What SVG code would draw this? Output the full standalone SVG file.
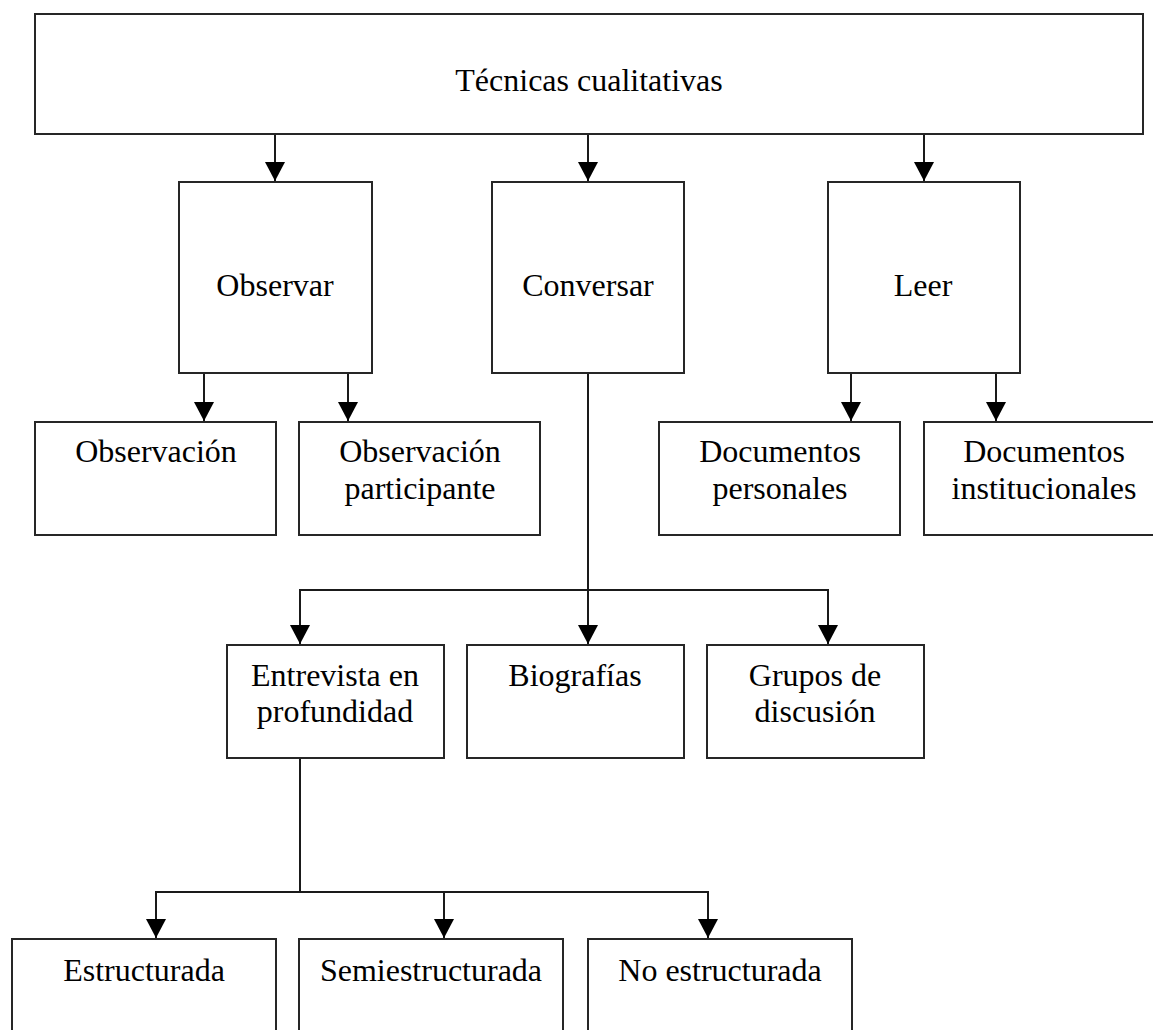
<svg xmlns="http://www.w3.org/2000/svg" width="1153" height="1030" viewBox="0 0 1153 1030">
<style>
.box{fill:#fff;stroke:#262626;stroke-width:2}
.lbl{font-family:"Liberation Serif","Times New Roman",serif;font-size:32px;fill:#000;text-anchor:middle}
.con{fill:none;stroke:#1a1a1a;stroke-width:2}
</style>
<defs>
<marker id="ah" markerUnits="userSpaceOnUse" markerWidth="22" markerHeight="22" refX="19" refY="10" orient="auto">
<path d="M0,0 L19,10 L0,20 Z" fill="#000"/>
</marker>
</defs>
<rect width="1153" height="1030" fill="#fff"/>
<g id="connectors">
<line class="con" x1="275" y1="134" x2="275" y2="181" marker-end="url(#ah)"/>
<line class="con" x1="588" y1="134" x2="588" y2="181" marker-end="url(#ah)"/>
<line class="con" x1="924" y1="134" x2="924" y2="181" marker-end="url(#ah)"/>
<line class="con" x1="204" y1="373" x2="204" y2="421" marker-end="url(#ah)"/>
<line class="con" x1="348" y1="373" x2="348" y2="421" marker-end="url(#ah)"/>
<line class="con" x1="851" y1="373" x2="851" y2="421" marker-end="url(#ah)"/>
<line class="con" x1="996" y1="373" x2="996" y2="421" marker-end="url(#ah)"/>
<line class="con" x1="588" y1="373" x2="588" y2="644" marker-end="url(#ah)"/>
<polyline class="con" points="300,620 300,590 828,590 828,620"/>
<line class="con" x1="300" y1="610" x2="300" y2="644" marker-end="url(#ah)"/>
<line class="con" x1="828" y1="610" x2="828" y2="644" marker-end="url(#ah)"/>
<line class="con" x1="300" y1="758" x2="300" y2="892"/>
<polyline class="con" points="156,915 156,892 708,892 708,915"/>
<line class="con" x1="156" y1="905" x2="156" y2="938" marker-end="url(#ah)"/>
<line class="con" x1="444" y1="892" x2="444" y2="938" marker-end="url(#ah)"/>
<line class="con" x1="708" y1="905" x2="708" y2="938" marker-end="url(#ah)"/>
</g>
<g id="n-tecnicas"><rect class="box" x="35" y="14" width="1108" height="120"/><text class="lbl" x="589" y="91">Técnicas cualitativas</text></g>
<g id="n-observar"><rect class="box" x="179" y="182" width="193" height="191"/><text class="lbl" x="275" y="296">Observar</text></g>
<g id="n-conversar"><rect class="box" x="492" y="182" width="192" height="191"/><text class="lbl" x="588" y="296">Conversar</text></g>
<g id="n-leer"><rect class="box" x="828" y="182" width="192" height="191"/><text class="lbl" x="923" y="296">Leer</text></g>
<g id="n-observacion"><rect class="box" x="35" y="422" width="241" height="113"/><text class="lbl" x="156" y="462">Observación</text></g>
<g id="n-obs-part"><rect class="box" x="299" y="422" width="241" height="113"/><text class="lbl" x="420" y="462">Observación</text><text class="lbl" x="420" y="499">participante</text></g>
<g id="n-doc-pers"><rect class="box" x="659" y="422" width="241" height="113"/><text class="lbl" x="780" y="462">Documentos</text><text class="lbl" x="780" y="499">personales</text></g>
<g id="n-doc-inst"><rect class="box" x="924" y="422" width="241" height="113"/><text class="lbl" x="1044" y="462">Documentos</text><text class="lbl" x="1044" y="499">institucionales</text></g>
<g id="n-entrevista"><rect class="box" x="227" y="645" width="217" height="113"/><text class="lbl" x="335" y="686">Entrevista en</text><text class="lbl" x="335" y="722">profundidad</text></g>
<g id="n-biografias"><rect class="box" x="467" y="645" width="217" height="113"/><text class="lbl" x="575" y="686">Biografías</text></g>
<g id="n-grupos"><rect class="box" x="707" y="645" width="217" height="113"/><text class="lbl" x="815" y="686">Grupos de</text><text class="lbl" x="815" y="722">discusión</text></g>
<g id="n-estructurada"><rect class="box" x="12" y="939" width="264" height="110"/><text class="lbl" x="144" y="981">Estructurada</text></g>
<g id="n-semi"><rect class="box" x="299" y="939" width="264" height="110"/><text class="lbl" x="431" y="981">Semiestructurada</text></g>
<g id="n-noestr"><rect class="box" x="588" y="939" width="264" height="110"/><text class="lbl" x="720" y="981">No estructurada</text></g>
</svg>
